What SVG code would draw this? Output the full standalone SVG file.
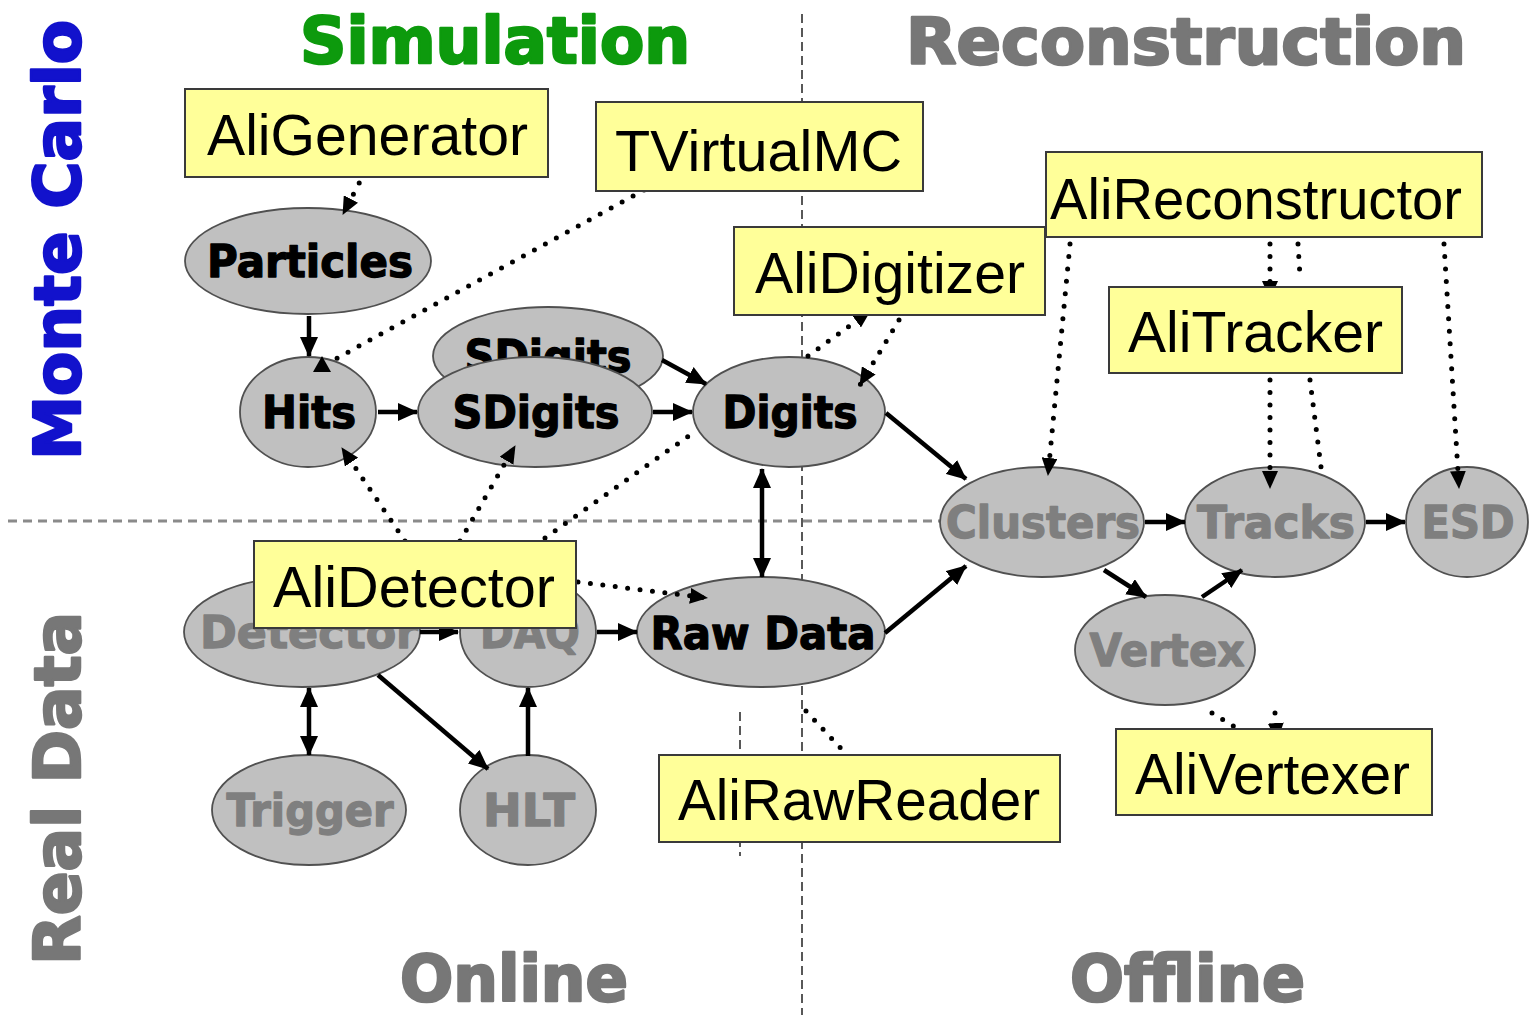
<svg xmlns="http://www.w3.org/2000/svg" width="1530" height="1015" viewBox="0 0 1530 1015">
  <style>
    .bg { fill: #ffffff; }
    .guide-h { stroke: #8a8a8a; stroke-width: 3; stroke-dasharray: 9 6; fill: none; }
    .guide-v { stroke: #222; stroke-width: 1.5; stroke-dasharray: 9 5; fill: none; }
    .title { font-family: "DejaVu Sans", "Liberation Sans", sans-serif; font-weight: bold; font-size: 64px; stroke-width: 2.5; stroke-linejoin: round; }
    .node ellipse { fill: #c0c0c0; stroke: #505050; stroke-width: 1.8; }
    .lbl { font-family: "DejaVu Sans", "Liberation Sans", sans-serif; font-weight: bold; font-size: 44px; text-anchor: middle; stroke-width: 1.3; stroke-linejoin: round; }
    .dark { fill: #000; stroke: #000; }
    .grey { fill: #7f7f7f; stroke: #7f7f7f; }
    .box rect { fill: #ffff99; stroke: #3a3a3a; stroke-width: 2; }
    .box text { font-family: "Liberation Sans", Arial, sans-serif; font-size: 57px; fill: #000; }
    .solid { stroke: #000; stroke-width: 4.5; fill: none; }
    .dots { stroke: #000; stroke-width: 5; stroke-linecap: round; stroke-dasharray: 0 12.5; fill: none; }
  </style>
  <defs>
    <marker id="arr" markerUnits="userSpaceOnUse" markerWidth="20" markerHeight="18" refX="19" refY="9" orient="auto-start-reverse">
      <path d="M0,0 L20,9 L0,18 z" fill="#000"/>
    </marker>
    <marker id="darr" markerUnits="userSpaceOnUse" markerWidth="18" markerHeight="16" refX="17" refY="8" orient="auto">
      <path d="M0,0 L18,8 L0,16 z" fill="#000"/>
    </marker>
  </defs>

  <rect class="bg" x="0" y="0" width="1530" height="1015"/>

  <!-- quadrant guides -->
  <g id="guides">
    <line class="guide-h" x1="8" y1="521" x2="945" y2="521"/>
    <line class="guide-v" x1="802" y1="14" x2="802" y2="1015"/>
    <line class="guide-v" x1="740" y1="712" x2="740" y2="856"/>
  </g>

  <!-- axis titles -->
  <g id="titles">
    <text class="title" x="300" y="63" fill="#0d9a0d" stroke="#0d9a0d" textLength="390" lengthAdjust="spacingAndGlyphs">Simulation</text>
    <text class="title" x="906" y="64" fill="#777777" stroke="#777777" textLength="560" lengthAdjust="spacingAndGlyphs">Reconstruction</text>
    <text class="title" transform="translate(80,460) rotate(-90)" x="0" y="0" fill="#1212cc" stroke="#1212cc" textLength="440" lengthAdjust="spacingAndGlyphs">Monte Carlo</text>
    <text class="title" transform="translate(80,965) rotate(-90)" x="0" y="0" fill="#777777" stroke="#777777" textLength="353" lengthAdjust="spacingAndGlyphs">Real Data</text>
    <text class="title" x="400" y="1001" fill="#777777" stroke="#777777" textLength="228" lengthAdjust="spacingAndGlyphs">Online</text>
    <text class="title" x="1070" y="1001" fill="#777777" stroke="#777777" textLength="235" lengthAdjust="spacingAndGlyphs">Offline</text>
  </g>

  <!-- data objects -->
  <g id="particles" class="node">
    <ellipse cx="308" cy="261" rx="123" ry="53"/>
    <text class="lbl dark" x="310" y="277" textLength="206" lengthAdjust="spacingAndGlyphs">Particles</text>
  </g>
  <g id="hits" class="node">
    <ellipse cx="308" cy="412" rx="68" ry="55"/>
    <text class="lbl dark" x="309" y="428" textLength="94" lengthAdjust="spacingAndGlyphs">Hits</text>
  </g>
  <g id="sdigits-back" class="node">
    <ellipse cx="548" cy="356" rx="115" ry="49"/>
    <text class="lbl dark" x="548" y="372" textLength="167" lengthAdjust="spacingAndGlyphs">SDigits</text>
  </g>
  <g id="sdigits" class="node">
    <ellipse cx="535" cy="412" rx="117" ry="55"/>
    <text class="lbl dark" x="536" y="428" textLength="167" lengthAdjust="spacingAndGlyphs">SDigits</text>
  </g>
  <g id="digits" class="node">
    <ellipse cx="789" cy="412" rx="96" ry="55"/>
    <text class="lbl dark" x="790" y="428" textLength="135" lengthAdjust="spacingAndGlyphs">Digits</text>
  </g>
  <g id="clusters" class="node">
    <ellipse cx="1042" cy="522" rx="102" ry="55"/>
    <text class="lbl grey" x="1043" y="538" textLength="194" lengthAdjust="spacingAndGlyphs">Clusters</text>
  </g>
  <g id="tracks" class="node">
    <ellipse cx="1275" cy="522" rx="90" ry="55"/>
    <text class="lbl grey" x="1276" y="538" textLength="158" lengthAdjust="spacingAndGlyphs">Tracks</text>
  </g>
  <g id="esd" class="node">
    <ellipse cx="1467" cy="522" rx="61" ry="55"/>
    <text class="lbl grey" x="1468" y="538" textLength="93" lengthAdjust="spacingAndGlyphs">ESD</text>
  </g>
  <g id="vertex" class="node">
    <ellipse cx="1165" cy="650" rx="90" ry="55"/>
    <text class="lbl grey" x="1167" y="666" textLength="155" lengthAdjust="spacingAndGlyphs">Vertex</text>
  </g>
  <g id="detector" class="node">
    <ellipse cx="302" cy="632" rx="118" ry="55"/>
    <text class="lbl grey" x="309" y="648" textLength="218" lengthAdjust="spacingAndGlyphs">Detector</text>
  </g>
  <g id="daq" class="node">
    <ellipse cx="528" cy="632" rx="68" ry="55"/>
    <text class="lbl grey" x="530" y="648" textLength="100" lengthAdjust="spacingAndGlyphs">DAQ</text>
  </g>
  <g id="rawdata" class="node">
    <ellipse cx="761" cy="632" rx="124" ry="55"/>
    <text class="lbl dark" x="763" y="649" textLength="225" lengthAdjust="spacingAndGlyphs">Raw Data</text>
  </g>
  <g id="trigger" class="node">
    <ellipse cx="309" cy="810" rx="97" ry="55"/>
    <text class="lbl grey" x="310" y="826" textLength="167" lengthAdjust="spacingAndGlyphs">Trigger</text>
  </g>
  <g id="hlt" class="node">
    <ellipse cx="528" cy="810" rx="68" ry="55"/>
    <text class="lbl grey" x="529" y="826" textLength="92" lengthAdjust="spacingAndGlyphs">HLT</text>
  </g>

  <!-- data flow and class relations -->
  <g id="connectors">
    <line class="solid" x1="309" y1="316" x2="309" y2="356" marker-end="url(#arr)"/>
    <line class="solid" x1="378" y1="412" x2="417" y2="412" marker-end="url(#arr)"/>
    <line class="solid" x1="662" y1="360" x2="706" y2="384" marker-end="url(#arr)"/>
    <line class="solid" x1="653" y1="412" x2="692" y2="412" marker-end="url(#arr)"/>
    <line class="solid" x1="886" y1="413" x2="966" y2="479" marker-end="url(#arr)"/>
    <line class="solid" x1="762" y1="469" x2="762" y2="577" marker-start="url(#arr)" marker-end="url(#arr)"/>
    <line class="solid" x1="885" y1="633" x2="966" y2="566" marker-end="url(#arr)"/>
    <line class="solid" x1="1145" y1="522" x2="1185" y2="522" marker-end="url(#arr)"/>
    <line class="solid" x1="1366" y1="522" x2="1405" y2="522" marker-end="url(#arr)"/>
    <line class="solid" x1="1104" y1="570" x2="1146" y2="597" marker-end="url(#arr)"/>
    <line class="solid" x1="1202" y1="597" x2="1242" y2="570" marker-end="url(#arr)"/>
    <line class="solid" x1="420" y1="632" x2="458" y2="632" marker-end="url(#arr)"/>
    <line class="solid" x1="597" y1="632" x2="637" y2="632" marker-end="url(#arr)"/>
    <line class="solid" x1="309" y1="688" x2="309" y2="755" marker-start="url(#arr)" marker-end="url(#arr)"/>
    <line class="solid" x1="378" y1="675" x2="488" y2="769" marker-end="url(#arr)"/>
    <line class="solid" x1="528" y1="756" x2="528" y2="688" marker-end="url(#arr)"/>

    <line class="dots" x1="365" y1="172" x2="343" y2="214" marker-end="url(#darr)"/>
    <line class="dots" x1="655" y1="184" x2="330" y2="362"/>
    <path d="M313,372 L322,356 L331,372 z" fill="#000"/>
    <line class="dots" x1="405" y1="541" x2="342" y2="448" marker-end="url(#darr)"/>
    <line class="dots" x1="460" y1="541" x2="515" y2="446" marker-end="url(#darr)"/>
    <line class="dots" x1="545" y1="538" x2="697" y2="430"/>
    <line class="dots" x1="578" y1="582" x2="707" y2="598" marker-end="url(#darr)"/>
    <line class="dots" x1="808" y1="356" x2="870" y2="311" marker-end="url(#darr)"/>
    <line class="dots" x1="899" y1="320" x2="860" y2="385" marker-end="url(#darr)"/>
    <line class="dots" x1="1070" y1="244" x2="1048" y2="475" marker-end="url(#darr)"/>
    <line class="dots" x1="1270" y1="244" x2="1270" y2="298" marker-end="url(#darr)"/>
    <line class="dots" x1="1298" y1="244" x2="1300" y2="276"/>
    <line class="dots" x1="1444" y1="244" x2="1459" y2="488" marker-end="url(#darr)"/>
    <line class="dots" x1="1270" y1="380" x2="1270" y2="488" marker-end="url(#darr)"/>
    <line class="dots" x1="1310" y1="380" x2="1322" y2="475"/>
    <line class="dots" x1="1212" y1="713" x2="1238" y2="729"/>
    <line class="dots" x1="1275" y1="713" x2="1277" y2="740" marker-end="url(#darr)"/>
    <line class="dots" x1="806" y1="711" x2="848" y2="756"/>
  </g>

  <!-- AliRoot classes -->
  <g id="aligenerator" class="box">
    <rect x="185" y="89" width="363" height="88"/>
    <text x="207" y="155" textLength="321" lengthAdjust="spacingAndGlyphs">AliGenerator</text>
  </g>
  <g id="tvirtualmc" class="box">
    <rect x="596" y="102" width="327" height="89"/>
    <text x="615" y="171" textLength="287" lengthAdjust="spacingAndGlyphs">TVirtualMC</text>
  </g>
  <g id="alidigitizer" class="box">
    <rect x="734" y="227" width="311" height="88"/>
    <text x="755" y="293" textLength="270" lengthAdjust="spacingAndGlyphs">AliDigitizer</text>
  </g>
  <g id="alireconstructor" class="box">
    <rect x="1046" y="152" width="436" height="85"/>
    <text x="1050" y="219" textLength="412" lengthAdjust="spacingAndGlyphs">AliReconstructor</text>
  </g>
  <g id="alitracker" class="box">
    <rect x="1109" y="287" width="293" height="86"/>
    <text x="1128" y="352" textLength="255" lengthAdjust="spacingAndGlyphs">AliTracker</text>
  </g>
  <g id="alidetector" class="box">
    <rect x="254" y="541" width="322" height="87"/>
    <text x="273" y="607" textLength="282" lengthAdjust="spacingAndGlyphs">AliDetector</text>
  </g>
  <g id="alirawreader" class="box">
    <rect x="659" y="755" width="401" height="87"/>
    <text x="678" y="820" textLength="362" lengthAdjust="spacingAndGlyphs">AliRawReader</text>
  </g>
  <g id="alivertexer" class="box">
    <rect x="1116" y="729" width="316" height="86"/>
    <text x="1135" y="794" textLength="275" lengthAdjust="spacingAndGlyphs">AliVertexer</text>
  </g>
</svg>
